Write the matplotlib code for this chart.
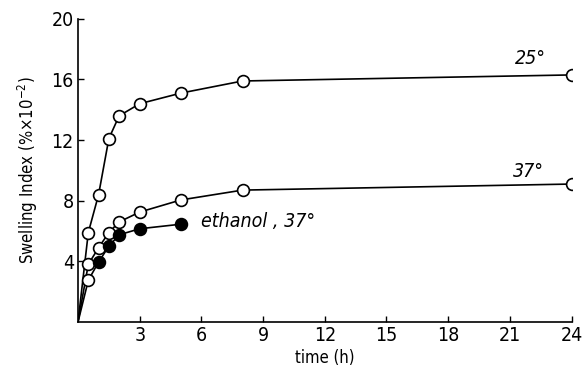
import matplotlib.pyplot as plt

# swelling data (time in h, index in %x10^-2)
t25 = [0, 0.5, 1, 1.5, 2, 3, 5, 8, 24]
s25 = [0, 5.9, 8.4, 12.1, 13.6, 14.4, 15.1, 15.9, 16.3]

t37 = [0, 0.5, 1, 1.5, 2, 3, 5, 8, 24]
s37 = [0, 3.8, 4.9, 5.9, 6.6, 7.25, 8.05, 8.7, 9.1]

t_eth = [0, 0.5, 1, 1.5, 2, 3, 5]
s_eth = [0, 2.75, 3.95, 5.0, 5.75, 6.15, 6.45]

xticks = [3, 6, 9, 12, 15, 18, 21, 24]
yticks = [4, 8, 12, 16, 20]

plt.rcParams['font.family'] = ['DejaVu Sans']
plt.rcParams['font.stretch'] = 'condensed'

fig = plt.figure(figsize=(5.84, 3.77), dpi=100)
ax = fig.add_axes([0.1336, 0.146, 0.845, 0.804])

lw = 1.2
ms = 8.5
ax.plot(t25, s25, '-', color='k', lw=lw, zorder=2)
ax.plot(t25[1:], s25[1:], 'o', mfc='white', mec='k', mew=1.2, ms=ms, zorder=3)
ax.plot(t37, s37, '-', color='k', lw=lw, zorder=2)
ax.plot(t37[1:], s37[1:], 'o', mfc='white', mec='k', mew=1.2, ms=ms, zorder=3)
ax.plot(t_eth, s_eth, '-', color='k', lw=lw, zorder=2)
ax.plot(t_eth[1:2], s_eth[1:2], 'o', mfc='white', mec='k', mew=1.2, ms=ms, zorder=3)
ax.plot(t_eth[2:], s_eth[2:], 'o', mfc='k', mec='k', mew=1.2, ms=ms, zorder=3)

ax.set_xlim(0, 24)
ax.set_ylim(0, 20)
ax.set_xticks(xticks)
ax.set_yticks(yticks)
ax.tick_params(direction='in', length=4, width=1, labelsize=14, pad=3)
for lbl in ax.get_xticklabels() + ax.get_yticklabels():
    lbl.set_fontstretch('condensed')
for s in ['top', 'right']:
    ax.spines[s].set_visible(False)
for s in ['left', 'bottom']:
    ax.spines[s].set_linewidth(1.2)

ax.set_xlabel('time (h)', fontsize=12, labelpad=3)
ax.set_ylabel('Swelling Index (%$\\times$10$^{-2}$)', fontsize=12, labelpad=8)

ax.text(22.0, 17.4, '25°', fontsize=14, style='italic', ha='center', va='center')
ax.text(21.9, 9.9, '37°', fontsize=14, style='italic', ha='center', va='center')
ax.text(6.0, 6.6, 'ethanol , 37°', fontsize=14, style='italic', ha='left', va='center')

fig.savefig('out.png', dpi=100, facecolor='w')
